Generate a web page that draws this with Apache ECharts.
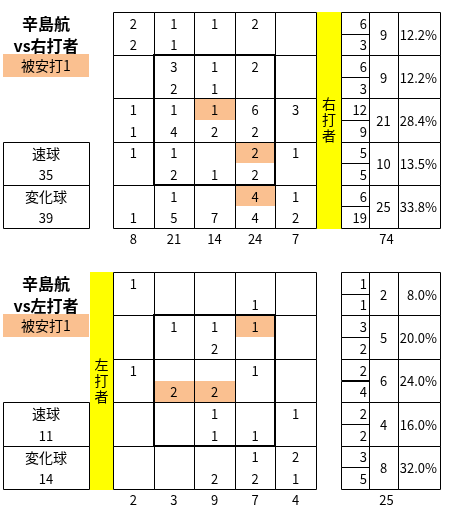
<!DOCTYPE html>
<html><head><meta charset="utf-8">
<script src="https://cdn.jsdelivr.net/npm/echarts@6/dist/echarts.min.js"></script>
<style>html,body{margin:0;padding:0;background:#fff}#c{width:450px;height:511px}</style>
</head><body><div id="c"></div>
<script>
// ---------------- data ----------------
const pitcher = '辛島航';
const hitLabel = '被安打1';
const pitchTypes = ['速球', '変化球'];
const zoneCols = ['1', '2', '3', '4', '5'];
const zoneBox = [1, 1, 3, 3]; // colFrom,rowFrom,colTo,rowTo of strike zone

// vs right-handed batters
const rightBatter = '右打者';
const rightFastball = [
  [2, 1, 1, 2, null],
  [null, 3, 1, 2, null],
  [1, 1, 1, 6, 3],
  [1, 1, null, 2, 1],
  [null, 1, null, 4, 1]
];
const rightBreaking = [
  [2, 1, null, null, null],
  [null, 2, 1, null, null],
  [1, 4, 2, 2, null],
  [null, 2, 1, 2, null],
  [1, 5, 7, 4, 2]
];
const rightHits = [[2, 2, 0], [3, 3, 0], [4, 3, 0]]; // [row, col, pitchType]
const rightColTotals = [8, 21, 14, 24, 7];
const rightRowFastball = [6, 6, 12, 5, 6];
const rightRowBreaking = [3, 3, 9, 5, 19];
const rightRowTotals = [9, 9, 21, 10, 25];
const rightRowPct = ['12.2%', '12.2%', '28.4%', '13.5%', '33.8%'];
const rightTotal = 74;
const rightPitchCounts = [35, 39];

// vs left-handed batters
const leftBatter = '左打者';
const leftFastball = [
  [1, null, null, null, null],
  [null, 1, 1, 1, null],
  [1, null, null, 1, null],
  [null, null, 1, null, 1],
  [null, null, null, 1, 2]
];
const leftBreaking = [
  [null, null, null, 1, null],
  [null, null, 2, null, null],
  [null, 2, 2, null, null],
  [null, null, 1, 1, null],
  [null, null, 2, 2, 1]
];
const leftHits = [[1, 3, 0], [2, 1, 1], [2, 2, 1]];
const leftColTotals = [2, 3, 9, 7, 4];
const leftRowFastball = [1, 3, 2, 2, 3];
const leftRowBreaking = [1, 2, 4, 2, 5];
const leftRowTotals = [2, 5, 6, 4, 8];
const leftRowPct = ['8.0%', '20.0%', '24.0%', '16.0%', '32.0%'];
const leftTotal = 25;
const leftPitchCounts = [11, 14];

// ---------------- styles / layout ----------------
const ORANGE = '#FAC090', YELLOW = '#FFFF00';
const FONT = '"Noto Sans CJK JP", "Noto Sans", sans-serif';

const blocks = [
  { batter: rightBatter, fast: rightFastball, brk: rightBreaking, hits: rightHits,
    colTotals: rightColTotals, rowFast: rightRowFastball, rowBrk: rightRowBreaking,
    rowTot: rightRowTotals, rowPct: rightRowPct, total: rightTotal, pitchCounts: rightPitchCounts,
    top: 12, height: 216, yellowLeft: 316, yellowWidth: 25 },
  { batter: leftBatter, fast: leftFastball, brk: leftBreaking, hits: leftHits,
    colTotals: leftColTotals, rowFast: leftRowFastball, rowBrk: leftRowBreaking,
    rowTot: leftRowTotals, rowPct: leftRowPct, total: leftTotal, pitchCounts: leftPitchCounts,
    top: 272, height: 217, yellowLeft: 89, yellowWidth: 24 }
];

const grid = [], xAxis = [], yAxis = [], series = [], graphic = [];

function addGrid(g, xcats, ycats, xLabel) {
  const i = grid.length;
  grid.push(Object.assign({ containLabel: false, outerBoundsMode: 'none', show: false }, g));
  xAxis.push({ type: 'category', gridIndex: i, data: xcats,
    axisLine: { show: false }, axisTick: { show: false }, splitLine: { show: false },
    axisLabel: xLabel ? Object.assign({ show: true, color: '#000', fontFamily: FONT, fontSize: 13, margin: 5, interval: 0 }, xLabel) : { show: false } });
  yAxis.push({ type: 'category', gridIndex: i, data: ycats, inverse: true,
    axisLine: { show: false }, axisTick: { show: false }, splitLine: { show: false }, axisLabel: { show: false } });
  return i;
}
function rectOf(api, x, y, spanX, spanY) {
  const c = api.coord([x, y]); const s = api.size([1, 1]);
  return { x: c[0] - s[0] / 2, y: c[1] - s[1] / 2, w: s[0] * (spanX || 1), h: s[1] * (spanY || 1) };
}
function strokeBox(b, lw) {
  lw = lw || 1;
  const o = lw % 2 ? 0.5 : 0;
  const x0 = Math.round(b.x) + o, y0 = Math.round(b.y) + o, x1 = Math.round(b.x + b.w) + o, y1 = Math.round(b.y + b.h) + o;
  return { type: 'rect', silent: true, shape: { x: x0, y: y0, width: x1 - x0, height: y1 - y0 }, style: { fill: 'none', stroke: '#000', lineWidth: lw } };
}
function fillBox(b, color) {
  const x0 = Math.round(b.x), y0 = Math.round(b.y), x1 = Math.round(b.x + b.w), y1 = Math.round(b.y + b.h);
  return { type: 'rect', silent: true, shape: { x: x0, y: y0, width: x1 - x0, height: y1 - y0 }, style: { fill: color } };
}
function label(text, x, y, align, size, extra) {
  return Object.assign({ type: 'text', silent: true, x: x, y: y + 1,
    style: { text: String(text), fill: '#000', font: (size || 13) + 'px ' + FONT, align: align || 'center', verticalAlign: 'middle' } }, extra || {});
}
function custom(gi, data, render) {
  series.push({ type: 'custom', xAxisIndex: gi, yAxisIndex: gi, data: data, renderItem: render, animation: false, silent: true });
}

const halfRows = [0, 1, 2, 3, 4, 5, 6, 7, 8, 9];
const rows = [0, 1, 2, 3, 4];

blocks.forEach(function (b) {
  const T = b.top, H = b.height;

  // ---- main zone grid ----
  const gMain = addGrid({ left: 113, top: T, width: 203, height: H }, zoneCols, halfRows,
    { formatter: function (v, i) { return String(b.colTotals[i]); } });
  const items = [];
  for (let r = 0; r < 5; r++) for (let c = 0; c < 5; c++) for (let t = 0; t < 2; t++) {
    const v = (t === 0 ? b.fast : b.brk)[r][c];
    const hl = b.hits.some(function (h) { return h[0] === r && h[1] === c && h[2] === t; });
    if (v != null || hl) items.push({ x: c, y: 2 * r + t, text: v == null ? '' : v, hl: hl });
  }
  custom(gMain, items.map(function (d) { return [d.x, d.y]; }), function (p, api) {
    const d = items[p.dataIndex];
    const bx = rectOf(api, d.x, d.y);
    const ch = [];
    if (d.hl) ch.push(fillBox(bx, ORANGE));
    ch.push(label(d.text, bx.x + bx.w / 2, bx.y + bx.h / 2));
    return { type: 'group', children: ch };
  });
  const cells = [];
  rows.forEach(function (r) { zoneCols.forEach(function (c, ci) { cells.push([ci, 2 * r]); }); });
  custom(gMain, cells, function (p, api) {
    const d = cells[p.dataIndex];
    return strokeBox(rectOf(api, d[0], d[1], 1, 2), 1);
  });
  custom(gMain, [[zoneBox[0], zoneBox[1] * 2]], function (p, api) {
    const a = rectOf(api, zoneBox[0], zoneBox[1] * 2);
    const z = rectOf(api, zoneBox[2], zoneBox[3] * 2 + 1);
    return strokeBox({ x: a.x, y: a.y, w: z.x + z.w - a.x, h: z.y + z.h - a.y }, 2);
  });

  // ---- yellow batter band ----
  const gYel = addGrid({ left: b.yellowLeft, top: T, width: b.yellowWidth, height: H }, [b.batter], [0]);
  custom(gYel, [[0, 0]], function (p, api) {
    const bx = rectOf(api, 0, 0);
    return { type: 'group', children: [
      fillBox({ x: bx.x + 1, y: bx.y, w: bx.w - 1, h: bx.h + 1 }, YELLOW),
      { type: 'text', silent: true, x: bx.x + bx.w / 2 + 0.5, y: bx.y + bx.h / 2,
        style: { text: b.batter.split('').join('\n'), fill: '#000', font: '14px ' + FONT, lineHeight: 16, align: 'center', verticalAlign: 'middle' } }
    ] };
  });

  // ---- split column (fastball / breaking per row) ----
  const gSplit = addGrid({ left: 341, top: T, width: 28, height: H }, [''], halfRows);
  const splitItems = [];
  rows.forEach(function (r) { splitItems.push(b.rowFast[r]); splitItems.push(b.rowBrk[r]); });
  custom(gSplit, splitItems.map(function (v, i) { return [0, i]; }), function (p, api) {
    const bx = rectOf(api, 0, p.dataIndex);
    return { type: 'group', children: [
      strokeBox(bx, 1),
      label(splitItems[p.dataIndex], bx.x + bx.w - 2, bx.y + bx.h / 2, 'right')
    ] };
  });

  // ---- row totals ----
  const gCnt = addGrid({ left: 369, top: T, width: 29, height: H }, [''], rows,
    { formatter: function () { return String(b.total); }, padding: [0, 0, 0, 6] });
  custom(gCnt, rows.map(function (r) { return [0, r]; }), function (p, api) {
    const bx = rectOf(api, 0, p.dataIndex);
    return { type: 'group', children: [
      strokeBox(bx, 1),
      label(b.rowTot[p.dataIndex], bx.x + bx.w / 2, bx.y + bx.h / 2)
    ] };
  });

  // ---- row percentage ----
  const gPct = addGrid({ left: 398, top: T, width: 42, height: H }, [''], rows);
  custom(gPct, rows.map(function (r) { return [0, r]; }), function (p, api) {
    const bx = rectOf(api, 0, p.dataIndex);
    return { type: 'group', children: [
      strokeBox(bx, 1),
      label(b.rowPct[p.dataIndex], bx.x + bx.w - 3, bx.y + bx.h / 2, 'right', 13)
    ] };
  });

  // ---- pitch type panel ----
  const panelRows = [pitchTypes[0], b.pitchCounts[0], pitchTypes[1], b.pitchCounts[1]];
  const gPan = addGrid({ left: 3, top: T + H * 3 / 5, width: 86, height: H * 2 / 5 }, [''], [0, 1, 2, 3]);
  custom(gPan, panelRows.map(function (v, i) { return [0, i]; }), function (p, api) {
    const i = p.dataIndex;
    const bx = rectOf(api, 0, i);
    const ch = [];
    if (i % 2 === 0) ch.push(strokeBox(rectOf(api, 0, i, 1, 2), 1));
    ch.push(label(panelRows[i], bx.x + bx.w / 2, bx.y + bx.h / 2, 'center', typeof panelRows[i] === 'string' ? 14 : 13));
    return { type: 'group', children: ch };
  });

  // ---- title & hit legend ----
  graphic.push({ type: 'text', silent: true, x: 46, y: T + 12,
    style: { text: pitcher, fill: '#000', font: 'bold 16px ' + FONT, align: 'center', verticalAlign: 'middle' } });
  graphic.push({ type: 'text', silent: true, x: 46, y: T + 34,
    style: { text: 'vs' + b.batter, fill: '#000', font: 'bold 16px ' + FONT, align: 'center', verticalAlign: 'middle' } });
  const hy = Math.round(T + H / 5) - 1;
  graphic.push({ type: 'rect', silent: true, shape: { x: 3, y: hy, width: 86, height: 23 }, style: { fill: ORANGE } });
  graphic.push({ type: 'text', silent: true, x: 46, y: hy + 12,
    style: { text: hitLabel, fill: '#000', font: '14px ' + FONT, align: 'center', verticalAlign: 'middle' } });
});

const chart = echarts.init(document.getElementById('c'), null, { renderer: 'canvas' });
chart.setOption({
  animation: false,
  backgroundColor: '#fff',
  grid: grid, xAxis: xAxis, yAxis: yAxis, series: series, graphic: graphic
});
</script>
</body></html>
